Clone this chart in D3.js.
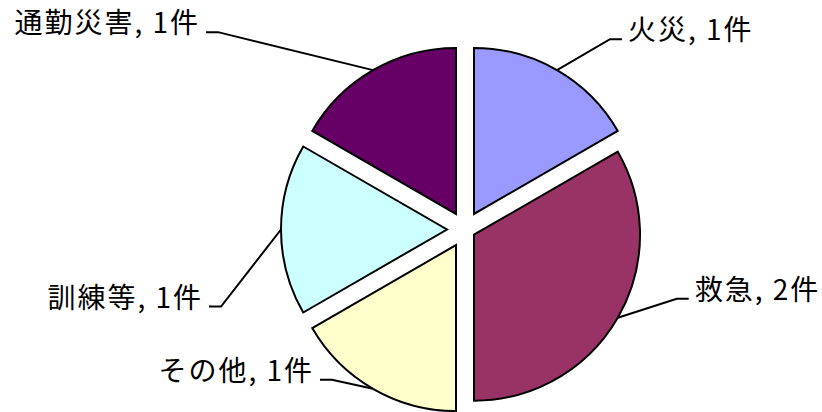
<!DOCTYPE html>
<html>
<head>
<meta charset="utf-8">
<script src="https://cdn.jsdelivr.net/npm/d3@7"></script>
<style>
  body { margin: 0; background: #fff; }
  text { font-family: "Noto Sans CJK JP", sans-serif; }
</style>
</head>
<body>
<div id="chart"></div>
<script>
// Data
const categories = ["火災", "救急", "その他", "訓練等", "通勤災害"];
const counts = [1, 2, 1, 1, 1];
const unit = "件";
const colors = ["#9999FF", "#993366", "#FFFFCC", "#CCFFFF", "#660066"];

// Label elbow offsets from the arc midpoint (layout only)
const labelOffsets = [[53, -31], [59, -19], [-41, -9], [-60, 77], [-155, -38]];

const width = 822, height = 412;
const cx = 465, cy = 229.5;
const radius = 166;
const gap = 9;  // perpendicular gap of each slice edge from its radius

const svg = d3.select("#chart")
  .append("svg")
    .attr("width", width)
    .attr("height", height);

const pie = d3.pie().sort(null).value(d => d)(counts);
const arc = d3.arc().innerRadius(0).outerRadius(radius);

const g = svg.append("g").attr("transform", `translate(${cx},${cy})`);

// Explode offset for each slice
pie.forEach(d => {
  const half = (d.endAngle - d.startAngle) / 2;
  const mid = d.startAngle + half;
  const off = gap / Math.sin(half);
  d.ox = off * Math.sin(mid);
  d.oy = -off * Math.cos(mid);
  d.mx = d.ox + radius * Math.sin(mid);
  d.my = d.oy - radius * Math.cos(mid);
  d.right = Math.sin(mid) > 0;
});

g.selectAll(".slice")
  .data(pie)
  .enter()
  .append("path")
  .attr("class", "slice")
  .attr("transform", d => `translate(${d.ox},${d.oy})`)
  .attr("d", arc)
  .style("fill", (d, i) => colors[i])
  .style("stroke", "#000")
  .style("stroke-width", 2);

// Leader lines and labels
const labels = g.selectAll(".label")
  .data(pie)
  .enter()
  .append("g")
  .attr("class", "label");

labels.append("polyline")
  .attr("points", (d, i) => {
    const ex = d.mx + labelOffsets[i][0], ey = d.my + labelOffsets[i][1];
    const hx = ex + (d.right ? 12 : -12);
    return `${d.mx},${d.my} ${ex},${ey} ${hx},${ey}`;
  })
  .style("fill", "none")
  .style("stroke", "#000")
  .style("stroke-width", 2);

labels.append("text")
  .attr("x", (d, i) => d.mx + labelOffsets[i][0] + (d.right ? 18 : -18))
  .attr("y", (d, i) => d.my + labelOffsets[i][1] + 1)
  .attr("text-anchor", d => d.right ? "start" : "end")
  .style("font-size", "28px")
  .style("letter-spacing", "2px")
  .style("fill", "#000")
  .text((d, i) => `${categories[i]}, ${counts[i]}${unit}`);
</script>
</body>
</html>
